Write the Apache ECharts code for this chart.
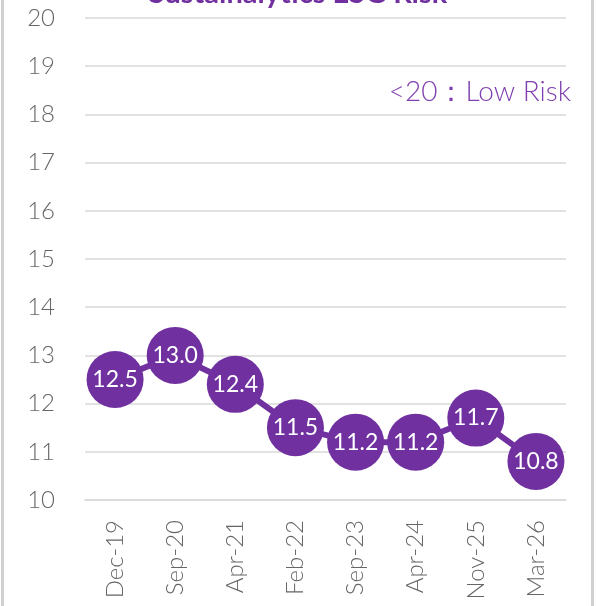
<!DOCTYPE html>
<html>
<head>
<meta charset="utf-8">
<script src="https://cdn.jsdelivr.net/npm/echarts@6/dist/echarts.min.js"></script>
<style>
  html, body { margin: 0; padding: 0; background: #fff; }
  #chart { width: 596px; height: 606px; }
</style>
</head>
<body>
<div id="chart"></div>
<script>
// ESG risk score history
var dates = ['Dec-19', 'Sep-20', 'Apr-21', 'Feb-22', 'Sep-23', 'Apr-24', 'Nov-25', 'Mar-26'];
var scores = [12.5, 13.0, 12.4, 11.5, 11.2, 11.2, 11.7, 10.8];
var purple = '#7030A0';

var myChart = echarts.init(document.getElementById('chart'));

var option = {
    backgroundColor: '#fff',
    title: {
        text: 'Sustainalytics ESG Risk',
        left: 'center',
        top: -26,
        textStyle: { color: purple, fontSize: 29, fontWeight: 'bold', fontFamily: 'Lato' }
    },
    grid: { left: 85, right: 30, top: 18, bottom: 106 },
    xAxis: {
        type: 'category',
        data: dates,
        axisLine: { lineStyle: { color: '#d9d9d9', width: 1.5 } },
        axisTick: { show: false },
        axisLabel: { rotate: 90, color: '#666', fontSize: 24, fontWeight: 300, fontFamily: 'Lato', margin: 20 }
    },
    yAxis: {
        type: 'value',
        min: 10,
        max: 20,
        interval: 1,
        axisLine: { show: false },
        axisTick: { show: false },
        axisLabel: { color: '#666', fontSize: 24, fontWeight: 300, fontFamily: 'Lato', margin: 30 },
        splitLine: { lineStyle: { color: '#d9d9d9', width: 1.5 } }
    },
    series: [{
        type: 'line',
        data: scores,
        symbol: 'circle',
        symbolSize: 57,
        lineStyle: { color: purple, width: 6 },
        itemStyle: { color: purple },
        label: {
            show: true,
            position: 'inside',
            color: '#fff',
            fontSize: 23,
            fontFamily: 'Lato',
            formatter: function (p) { return p.value.toFixed(1); }
        }
    }],
    graphic: [
        {
            type: 'text',
            right: 25,
            top: 78,
            style: { text: '<20：Low Risk', fill: '#7F3FB0', fontSize: 28, fontWeight: 300, fontFamily: 'Lato' }
        },
        {
            type: 'rect',
            left: 0,
            top: -10,
            shape: { x: 1.5, y: 0, width: 590, height: 640 },
            style: { fill: 'none', stroke: '#d0d0d0', lineWidth: 3 }
        }
    ]
};

myChart.setOption(option);
</script>
</body>
</html>
